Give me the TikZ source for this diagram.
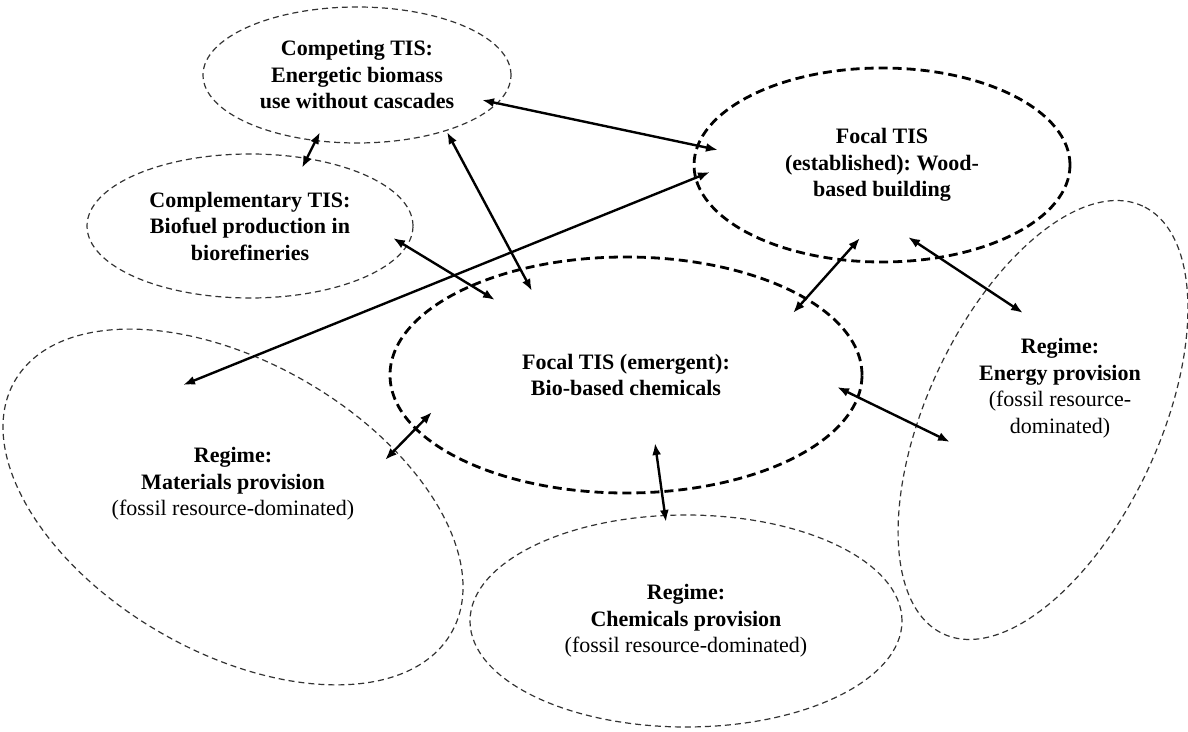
\documentclass[tikz,border=0pt]{standalone}
\usepackage{fontspec}
\setmainfont{Liberation Serif}
\usetikzlibrary{shapes.geometric,arrows.meta}
\frenchspacing
\begin{document}
\begin{tikzpicture}[x=0.5pt,y=-0.5pt,
  lbl/.style={align=center,font=\fontsize{11}{13.25}\selectfont\bfseries,inner sep=0pt},
  thindash/.style={draw=black!80,line width=0.6pt,dash pattern=on 3pt off 2pt},
  thickdash/.style={draw=black,line width=1.4pt,dash pattern=on 4.5pt off 2.5pt},
  oval/.style={ellipse,inner sep=0pt,outer sep=0pt,align=center,font=\fontsize{11}{13.25}\selectfont\bfseries},
  link/.style={line width=1.2pt,arrows={Latex[length=6pt,width=4.5pt]-Latex[length=6pt,width=4.5pt]}}
]
\useasboundingbox (0,0) rectangle (1188,732);

% ellipse nodes
\node[oval,thindash,minimum width=154pt,minimum height=68pt] (comp) at (357,75)
  {Competing TIS:\\Energetic biomass\\use without cascades};
\node[oval,thindash,minimum width=163pt,minimum height=72pt] (compl) at (250,226)
  {Complementary TIS:\\Biofuel production in\\biorefineries};
\node[oval,thickdash,minimum width=188pt,minimum height=97pt] (est) at (882,165)
  {Focal TIS\\(established): Wood-\\based building};
\node[oval,thickdash,minimum width=236pt,minimum height=118pt] (emer) at (626,375)
  {Focal TIS (emergent):\\Bio-based chemicals};
\node[oval,thindash,minimum width=216pt,minimum height=106pt] (chem) at (686,621)
  {Regime:\\Chemicals provision\\{\mdseries (fossil resource-dominated)}};

% rotated regime ellipses
\draw[thindash,rotate around={-30:(233,507)}] (233,507) ellipse [x radius=126pt,y radius=72.5pt];
\node[lbl] (mat) at (233,484) {Regime:\\Materials provision\\{\mdseries (fossil resource-dominated)}};
\draw[thindash,rotate around={65:(1043,420)}] (1043,420) ellipse [x radius=118pt,y radius=58pt];
\node[lbl] (ener) at (1060,388) {Regime:\\Energy provision\\{\mdseries (fossil resource-}\\{\mdseries dominated)}};

% connector end points
\coordinate (a1) at (482,100);  \coordinate (a2) at (718,150);
\coordinate (b1) at (320,132);  \coordinate (b2) at (302,168);
\coordinate (c1) at (447,132);  \coordinate (c2) at (532,291);
\coordinate (d1) at (393,238);  \coordinate (d2) at (495,300);
\coordinate (e1) at (183,385);  \coordinate (e2) at (710,172);
\coordinate (f1) at (385,460);  \coordinate (f2) at (432,412);
\coordinate (g1) at (793,313);  \coordinate (g2) at (860,238);
\coordinate (h1) at (908,237);  \coordinate (h2) at (1023,313);
\coordinate (i1) at (837,387);  \coordinate (i2) at (950,442);
\coordinate (j1) at (655,443);  \coordinate (j2) at (666,522);

\draw[link] (a1) -- (a2);
\draw[link] (b1) -- (b2);
\draw[link] (c1) -- (c2);
\draw[link] (d1) -- (d2);
\draw[link] (e1) -- (e2);
\draw[link] (f1) -- (f2);
\draw[link] (g1) -- (g2);
\draw[link] (h1) -- (h2);
\draw[link] (i1) -- (i2);
\draw[link] (j1) -- (j2);
\end{tikzpicture}
\end{document}
